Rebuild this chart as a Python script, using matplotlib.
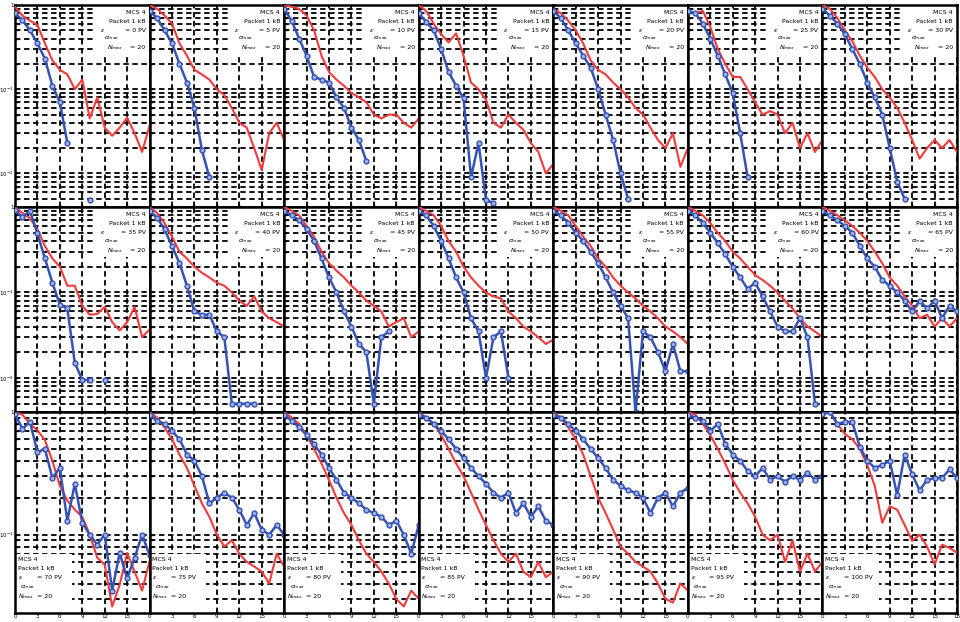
import numpy as np
import matplotlib.pyplot as plt
from matplotlib.patches import Rectangle
from matplotlib.ticker import FixedLocator, NullFormatter

nan = np.nan
x = np.arange(19)          # 19 points per curve
x_ticks = [0, 3, 6, 9, 12, 15, 18]
eps_values = [0, 5, 10, 15, 20, 25, 30,
              35, 40, 45, 50, 55, 60, 65,
              70, 75, 80, 85, 90, 95, 100]

# ---- row 1 ----
red_row1 = [
    [0.95, 0.75, 0.65, 0.58, 0.35, 0.22, 0.17, 0.15, 0.10, 0.13, 0.045, 0.08, 0.035, 0.028, 0.035, 0.046, 0.03, 0.018, 0.037],
    [1.0, 0.9, 0.75, 0.6, 0.35, 0.25, 0.17, 0.15, 0.13, 0.1, 0.085, 0.06, 0.04, 0.035, 0.02, 0.011, 0.03, 0.04, 0.025],
    [1.0, 0.95, 0.9, 0.75, 0.5, 0.25, 0.16, 0.13, 0.11, 0.09, 0.08, 0.07, 0.05, 0.045, 0.05, 0.05, 0.04, 0.035, 0.045],
    [1.0, 0.85, 0.6, 0.45, 0.36, 0.46, 0.25, 0.12, 0.10, 0.075, 0.04, 0.035, 0.05, 0.04, 0.033, 0.023, 0.018, 0.01, 0.013],
    [0.9, 0.8, 0.65, 0.5, 0.35, 0.22, 0.17, 0.15, 0.12, 0.1, 0.08, 0.06, 0.05, 0.035, 0.025, 0.02, 0.03, 0.012, 0.02],
    [0.85, 0.8, 0.85, 0.55, 0.3, 0.2, 0.14, 0.14, 0.1, 0.07, 0.05, 0.055, 0.05, 0.03, 0.04, 0.02, 0.03, 0.018, 0.025],
    [1.0, 0.9, 0.7, 0.5, 0.37, 0.25, 0.18, 0.14, 0.1, 0.08, 0.06, 0.04, 0.025, 0.015, 0.02, 0.025, 0.02, 0.025, 0.018],
]
blue_row1 = [
    [0.8, 0.66, 0.5, 0.35, 0.23, 0.11, 0.07, 0.023, nan, nan, 0.0048],
    [0.85, 0.7, 0.5, 0.35, 0.2, 0.12, 0.06, 0.019, 0.009],
    [0.9, 0.65, 0.4, 0.25, 0.14, 0.13, 0.12, 0.08, 0.06, 0.035, 0.025, 0.014],
    [0.8, 0.63, 0.5, 0.3, 0.16, 0.11, 0.078, 0.009, 0.023, 0.0048, 0.0045],
    [0.85, 0.7, 0.5, 0.35, 0.25, 0.18, 0.1, 0.05, 0.025, 0.01, 0.005],
    [0.85, 0.8, 0.6, 0.4, 0.25, 0.15, 0.09, 0.03, 0.009],
    [0.9, 0.75, 0.6, 0.45, 0.3, 0.2, 0.12, 0.08, 0.05, 0.02, 0.008, 0.005],
]

# ---- row 2 ----
red_row2 = [
    [1.0, 0.85, 0.74, 0.55, 0.35, 0.25, 0.2, 0.12, 0.12, 0.07, 0.055, 0.056, 0.068, 0.045, 0.036, 0.045, 0.068, 0.03, 0.037],
    [1.0, 0.85, 0.65, 0.45, 0.3, 0.25, 0.2, 0.17, 0.15, 0.13, 0.12, 0.1, 0.08, 0.07, 0.09, 0.06, 0.05, 0.045, 0.04],
    [1.0, 0.9, 0.8, 0.6, 0.45, 0.3, 0.22, 0.18, 0.15, 0.12, 0.1, 0.08, 0.07, 0.06, 0.04, 0.045, 0.05, 0.03, 0.035],
    [1.0, 0.9, 0.8, 0.6, 0.4, 0.3, 0.2, 0.15, 0.12, 0.1, 0.09, 0.085, 0.06, 0.05, 0.04, 0.035, 0.03, 0.025, 0.028],
    [1.0, 0.9, 0.8, 0.6, 0.45, 0.35, 0.25, 0.2, 0.15, 0.12, 0.1, 0.085, 0.07, 0.06, 0.05, 0.04, 0.035, 0.03, 0.025],
    [1.0, 0.9, 0.8, 0.65, 0.5, 0.4, 0.3, 0.25, 0.2, 0.16, 0.14, 0.12, 0.1, 0.08, 0.065, 0.05, 0.04, 0.035, 0.03],
    [1.0, 0.9, 0.8, 0.7, 0.6, 0.5, 0.4, 0.3, 0.22, 0.15, 0.12, 0.09, 0.07, 0.05, 0.055, 0.04, 0.05, 0.04, 0.05],
]
blue_row2 = [
    [0.92, 0.76, 0.9, 0.49, 0.25, 0.13, 0.072, 0.065, 0.015, 0.0095, 0.0095, nan, 0.0095],
    [0.9, 0.75, 0.55, 0.35, 0.22, 0.12, 0.06, 0.055, 0.055, 0.035, 0.03, 0.005, 0.005, 0.005, 0.005],
    [0.9, 0.8, 0.7, 0.55, 0.4, 0.25, 0.15, 0.1, 0.06, 0.04, 0.025, 0.02, 0.005, 0.03, 0.035],
    [0.9, 0.8, 0.6, 0.4, 0.25, 0.15, 0.1, 0.05, 0.035, 0.01, 0.03, 0.035, 0.01],
    [0.9, 0.8, 0.65, 0.5, 0.4, 0.3, 0.22, 0.15, 0.1, 0.07, 0.05, 0.004, 0.035, 0.03, 0.02, 0.012, 0.025, 0.012, 0.012],
    [0.9, 0.8, 0.65, 0.5, 0.38, 0.28, 0.2, 0.15, 0.11, 0.13, 0.09, 0.06, 0.04, 0.035, 0.035, 0.05, 0.03, 0.005],
    [0.9, 0.8, 0.7, 0.6, 0.5, 0.35, 0.25, 0.2, 0.14, 0.12, 0.1, 0.08, 0.06, 0.08, 0.065, 0.08, 0.05, 0.07, 0.06],
]

# ---- row 3 ----
red_row3 = [
    [1.0, 0.95, 0.8, 0.71, 0.59, 0.4, 0.25, 0.19, 0.16, 0.14, 0.1, 0.065, 0.057, 0.026, 0.039, 0.071, 0.05, 0.035, 0.061],
    [1.0, 0.9, 0.75, 0.6, 0.45, 0.35, 0.25, 0.18, 0.14, 0.1, 0.08, 0.09, 0.07, 0.06, 0.055, 0.05, 0.04, 0.07, 0.055],
    [1.0, 0.9, 0.8, 0.65, 0.5, 0.38, 0.28, 0.2, 0.15, 0.12, 0.09, 0.07, 0.06, 0.05, 0.04, 0.03, 0.026, 0.035, 0.03],
    [1.0, 0.9, 0.8, 0.65, 0.5, 0.38, 0.3, 0.22, 0.16, 0.12, 0.09, 0.07, 0.06, 0.07, 0.05, 0.045, 0.06, 0.045, 0.05],
    [1.0, 0.9, 0.75, 0.6, 0.45, 0.3, 0.2, 0.15, 0.11, 0.08, 0.07, 0.06, 0.055, 0.05, 0.04, 0.03, 0.028, 0.04, 0.035],
    [1.0, 0.95, 0.8, 0.65, 0.5, 0.38, 0.28, 0.22, 0.18, 0.14, 0.1, 0.09, 0.1, 0.06, 0.09, 0.05, 0.07, 0.05, 0.06],
    [1.0, 1.0, 0.8, 0.66, 0.6, 0.5, 0.37, 0.25, 0.125, 0.17, 0.16, 0.12, 0.089, 0.1, 0.08, 0.057, 0.083, 0.078, 0.071],
]
blue_row3 = [
    [0.96, 0.73, 0.83, 0.47, 0.5, 0.29, 0.35, 0.13, 0.26, 0.125, 0.1, 0.083, 0.1, 0.035, 0.071, 0.044, 0.065, 0.1, 0.068],
    [0.95, 0.85, 0.8, 0.7, 0.6, 0.45, 0.4, 0.3, 0.18, 0.2, 0.22, 0.2, 0.16, 0.12, 0.15, 0.11, 0.1, 0.12, 0.1],
    [0.95, 0.85, 0.75, 0.65, 0.55, 0.45, 0.35, 0.28, 0.22, 0.2, 0.18, 0.16, 0.15, 0.14, 0.12, 0.13, 0.1, 0.07, 0.12],
    [0.95, 0.9, 0.8, 0.7, 0.6, 0.5, 0.42, 0.35, 0.3, 0.26, 0.22, 0.2, 0.22, 0.15, 0.18, 0.14, 0.17, 0.13, 0.12],
    [0.95, 0.9, 0.8, 0.7, 0.6, 0.5, 0.42, 0.35, 0.28, 0.25, 0.23, 0.22, 0.2, 0.15, 0.2, 0.22, 0.17, 0.22, 0.24],
    [0.95, 0.9, 0.85, 0.7, 0.8, 0.55, 0.45, 0.4, 0.33, 0.3, 0.35, 0.28, 0.3, 0.27, 0.3, 0.28, 0.32, 0.28, 0.3],
    [0.96, 1.0, 0.8, 0.83, 0.83, 0.52, 0.40, 0.35, 0.37, 0.4, 0.21, 0.45, 0.31, 0.23, 0.28, 0.29, 0.29, 0.34, 0.29],
]

red_rows = [red_row1, red_row2, red_row3]
blue_rows = [blue_row1, blue_row2, blue_row3]

RED = '#f23a3a'
BLUE = '#3552b5'

W, H = 960, 622
left0, right0 = 15, 957
colw = (right0 - left0) / 7
row_px = [(5, 207), (207, 412), (412, 613)]
ylims = [(0.004, 1.0), (0.004, 1.0), (0.023, 1.0)]

fig = plt.figure(figsize=(9.6, 6.22), dpi=100)

for r in range(3):
    for c in range(7):
        top, bot = row_px[r]
        ax = fig.add_axes([(left0 + c * colw) / W, 1 - bot / H, colw / W, (bot - top) / H])
        ax.set_yscale('log')
        ax.set_xlim(0, 18)
        ax.set_ylim(*ylims[r])
        ax.set_axisbelow(True)
        ax.grid(True, which='both', color='k', linestyle=(0, (3, 2)), linewidth=1.3)
        ax.yaxis.set_major_locator(FixedLocator([1e-2, 1e-1, 1.0]))
        ax.yaxis.set_minor_formatter(NullFormatter())
        ax.set_xticks(x_ticks)
        ax.tick_params(which='both', direction='in', length=2, width=1, pad=1, labelsize=4)
        for sp in ax.spines.values():
            sp.set_linewidth(1.8)

        if c == 0:
            ax.set_yticklabels(['$10^{-2}$', '$10^{-1}$', '1'])
        else:
            ax.set_yticklabels([])
        if r == 2:
            labs = [str(t) for t in x_ticks]
            if c < 6:
                labs[-1] = ''
            ax.set_xticklabels(labs)
        else:
            ax.set_xticklabels([])

        red = np.array(red_rows[r][c], dtype=float)
        blue = np.full(19, nan)
        bvals = blue_rows[r][c]
        blue[:len(bvals)] = bvals

        ax.plot(x, red, color=RED, lw=1.5, zorder=3)
        ax.plot(x, blue, color=BLUE, lw=1.8, marker='o', ms=3.5,
                mfc='#9fb2e6', mec=BLUE, mew=1.0, zorder=4)

        eps = eps_values[r * 7 + c]
        fs = 4.5
        kw = dict(transform=ax.transAxes, va='center', fontsize=fs, zorder=5)
        if r < 2:
            ax.add_patch(Rectangle((0.6, 0.755), 0.4, 0.245, transform=ax.transAxes,
                                   fc='white', ec='none', zorder=1.5))
            ax.text(0.97, 0.965, 'MCS 4', ha='right', **kw)
            ax.text(0.97, 0.92, 'Packet 1 kB', ha='right', **kw)
            ax.text(0.63, 0.875, r'$\varepsilon$', ha='left', **kw)
            ax.text(0.97, 0.875, '= %d PV' % eps, ha='right', **kw)
            ax.text(0.66, 0.835, r'$\sigma_{max}$', ha='left', **kw)
            ax.text(0.68, 0.79, r'$N_{max}$', ha='left', **kw)
            ax.text(0.97, 0.79, '= 20', ha='right', **kw)
        else:
            ax.add_patch(Rectangle((0.0, 0.0), 0.42, 0.295, transform=ax.transAxes,
                                   fc='white', ec='none', zorder=1.5))
            ax.text(0.02, 0.265, 'MCS 4', ha='left', **kw)
            ax.text(0.02, 0.22, 'Packet 1 kB', ha='left', **kw)
            ax.text(0.02, 0.175, r'$\varepsilon$', ha='left', **kw)
            ax.text(0.16, 0.175, '= %d PV' % eps, ha='left', **kw)
            ax.text(0.04, 0.13, r'$\sigma_{max}$', ha='left', **kw)
            ax.text(0.02, 0.08, r'$N_{max}$', ha='left', **kw)
            ax.text(0.16, 0.08, '= 20', ha='left', **kw)

fig.savefig('out.png', dpi=100)
